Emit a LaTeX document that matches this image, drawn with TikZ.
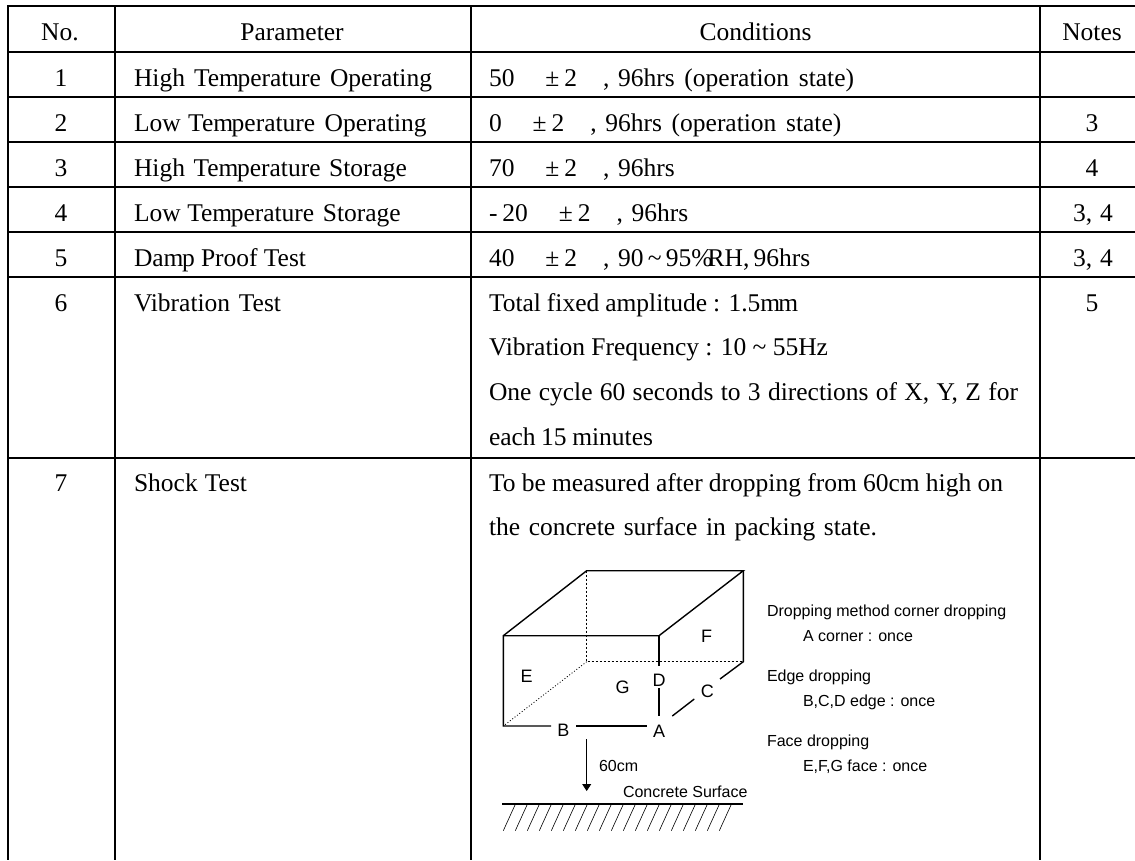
\documentclass[tikz,border=0pt]{standalone}
\usepackage{fontspec}
\setmainfont{Liberation Serif}
\newfontfamily\arialf{Liberation Sans}
\usetikzlibrary{arrows.meta}
\tikzset{
  grid line/.style={line width=1.7pt,black},
  cell/.style={anchor=base west,inner sep=0pt,outer sep=0pt,font=\fontsize{25.5}{25.5}\selectfont},
  mid/.style={anchor=base,inner sep=0pt,outer sep=0pt,font=\fontsize{25.5}{25.5}\selectfont},
  sans/.style={anchor=base west,inner sep=0pt,outer sep=0pt,font=\arialf\fontsize{16}{16}\selectfont},
  face/.style={anchor=center,inner sep=0pt,outer sep=0pt,font=\arialf\fontsize{18}{18}\selectfont},
  solidedge/.style={line width=1.4pt,black},
  hiddenedge/.style={line width=1.4pt,black,dash pattern=on 2pt off 2pt},
  dottededge/.style={line width=0.8pt,black,dash pattern=on 1pt off 2pt},
  thinedge/.style={line width=0.8pt,black},
  hatchline/.style={line width=0.6pt,black}
}
\hbadness=10000 \hfuzz=20pt
\newcommand{\fitw}[2]{\hbox to #1pt{#2}}
\newcommand{\tgap}{\hspace{31pt}}
\newcommand{\tmp}{Tem\kern-1.5pt perature}
\newcommand{\pmtwo}{±\hspace{5pt}2\hspace{26pt},\hspace{8.5pt}}
\begin{document}
\begin{tikzpicture}[x=1pt,y=-1pt]
\useasboundingbox (0,0) rectangle (1135,860);
\fill[white] (0,0) rectangle (1135,860);
% table grid
\foreach \yy in {5.7,51.7,96.7,141.7,186.7,231.7,276.7,457.7}
  \draw[grid line] (7,\yy) -- (1135,\yy);
\foreach \xx in {7.7,115,471,1040}
  \draw[grid line] (\xx,5) -- (\xx,860);
% header
\node[mid] (hno) at (60,40) {No.};
\node[mid] (hpar) at (292,40) {Parameter};
\node[mid] (hcon) at (755.5,40) {Conditions};
\node[mid] (hnot) at (1092,40) {Notes};
% numbers
\node[mid] (n1) at (61,86.7) {1};
\node[mid] (n2) at (61,131.7) {2};
\node[mid] (n3) at (61,176.7) {3};
\node[mid] (n4) at (61,221.7) {4};
\node[mid] (n5) at (61,266.7) {5};
\node[mid] (n6) at (61,311) {6};
\node[mid] (n7) at (61,491.7) {7};
% parameters
\node[cell] (p1) at (134,86.7) {\fitw{298}{High \tmp{} Operating}};
\node[cell] (p2) at (134,131.7) {\fitw{292.7}{Low\kern-2pt\ \tmp{} Operating}};
\node[cell] (p3) at (134,176.7) {\fitw{273}{High \tmp{} Storage}};
\node[cell] (p4) at (134,221.7) {\fitw{266.7}{Low\kern-2pt\ \tmp{} Storage}};
\node[cell] (p5) at (134,266.7) {\fitw{172}{Dam\kern-1.5pt p Proof Test}};
\node[cell] (p6) at (134,311) {\fitw{147}{Vibration Test}};
\node[cell] (p7) at (134,491.7) {\fitw{113}{Shock Test}};
% conditions
\node[cell] (c1) at (489,86.7) {50\tgap \pmtwo\fitw{236}{96hrs (operation state)}};
\node[cell] (c2) at (489,131.7) {0\tgap \pmtwo\fitw{236}{96hrs (operation state)}};
\node[cell] (c3) at (489,176.7) {70\tgap \pmtwo 96hrs};
\node[cell] (c4) at (489,221.7) {-\hspace{5pt}20\tgap \pmtwo 96hrs};
\node[cell] (c5) at (489,266.7) {40\tgap \pmtwo\fitw{190}{90 \char`\~{} 95\%\kern-5pt RH, 96hrs}};
\node[cell] (c6a) at (489,311.7) {\fitw{309}{Total fixed amplitude : 1.5m\kern-2pt m}};
\node[cell] (c6b) at (489,355) {\fitw{339}{Vibration Frequency : 10 \char`\~{} 55Hz}};
\node[cell] (c6c) at (489,400) {\fitw{529}{One cycle 60 seconds to 3 directions of X, Y, Z for}};
\node[cell] (c6d) at (489,445) {\fitw{164}{each 15 minutes}};
\node[cell] (c7a) at (489,491.7) {\fitw{514}{To be measured after dropping from 60cm high on}};
\node[cell] (c7b) at (489,535) {\fitw{388}{the concrete surface in packing state.}};
% notes
\node[mid] (nt2) at (1092,131.7) {3};
\node[mid] (nt3) at (1092,176.7) {4};
\node[mid] (nt4) at (1093,221.7) {3,\hspace{8pt}4};
\node[mid] (nt5) at (1093,266.7) {3,\hspace{8pt}4};
\node[mid] (nt6) at (1092,311) {5};
% box corners
\coordinate (btl) at (586.7,570.7);
\coordinate (btr) at (743.3,570.7);
\coordinate (ftl) at (503.3,635.7);
\coordinate (ftr) at (659,635.7);
\coordinate (fbl) at (503.3,726);
\coordinate (bbl) at (586.7,661.7);
\coordinate (bbr) at (743.3,661.7);
% ends of the broken edges beside the labels
\coordinate (bgapl) at (551,726);
\coordinate (bgapr) at (576,726);
\coordinate (agapl) at (646.7,726);
\coordinate (dgapt) at (659,666);
\coordinate (dgapb) at (659,688.3);
\coordinate (agapt) at (659,715.7);
\coordinate (agapr) at (672.3,716);
\coordinate (cgapl) at (694.3,699);
\coordinate (cgapr) at (720,679);
% face and edge labels
\node[face] (E) at (526.7,676) {E};
\node[face] (F) at (706.7,636.5) {F};
\node[face] (G) at (622.7,687.7) {G};
\node[face] (D) at (659,680) {D};
\node[face] (C) at (707.3,691) {C};
\node[face] (B) at (563.3,730) {B};
\node[face] (A) at (659,731) {A};
% box edges
\draw[solidedge,line join=miter] (ftl) -- (btl) -- (btr) -- (ftr) -- (ftl) -- (fbl) -- (bgapl);
\draw[solidedge] (btr) -- (bbr) -- (cgapr);
\draw[solidedge] (bgapr) -- (agapl);
\draw[solidedge] (ftr) -- (dgapt);
\draw[solidedge] (dgapb) -- (agapt);
\draw[solidedge] (cgapl) -- (agapr);
\draw[hiddenedge] (btl) -- (bbl) -- (bbr);
\draw[dottededge] (bbl) -- (fbl);
% drop
\coordinate (droptop) at (586.7,739);
\coordinate (dropend) at (586.7,791);
\draw[thinedge,-{Triangle[length=7pt,width=9pt]}] (droptop) -- (dropend);
\node[sans] (cm) at (599,771.7) {60cm};
\node[sans] (surf) at (623,797.7) {Concrete Surface};
% ground
\coordinate (gl) at (502.3,804);
\coordinate (gr) at (743.3,804);
\draw[solidedge] (gl) -- (gr);
\foreach \i in {0,...,18}
  \draw[hatchline] (503.3+12*\i,830.7) -- (515+12*\i,805);
% method notes
\node[sans] (m1) at (767,616.7) {Dropping method corner dropping};
\node[sans] (m2) at (803,641.7) {A corner : once};
\node[sans] (m3) at (767,681.7) {Edge dropping};
\node[sans] (m4) at (803,706.7) {B,C,D edge : once};
\node[sans] (m5) at (767,746) {Face dropping};
\node[sans] (m6) at (803,771.7) {E,F,G face : once};
\end{tikzpicture}
\end{document}
